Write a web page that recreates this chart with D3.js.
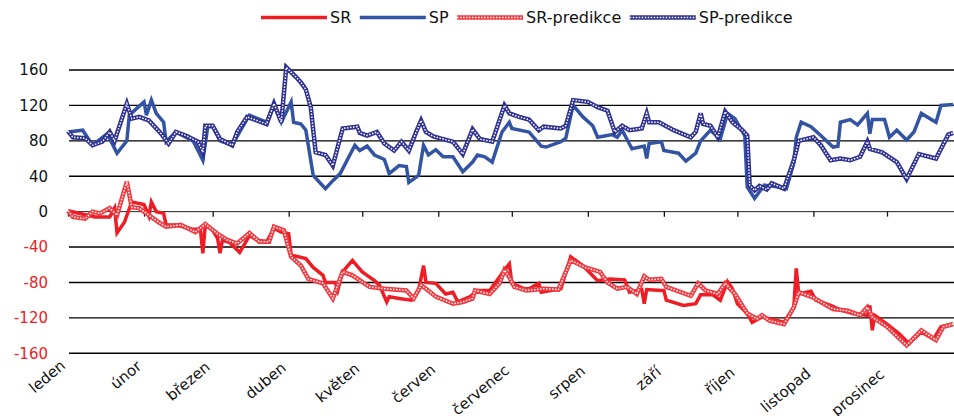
<!DOCTYPE html>
<html>
<head>
<meta charset="utf-8">
<script src="https://cdn.jsdelivr.net/npm/d3@7"></script>
<style>
  body { margin:0; background:#fff; }
  svg text { font-family: "DejaVu Sans", Verdana, sans-serif; }
</style>
</head>
<body>
<div id="canvas"></div>
<script>
// --- data (day of year, value)
var mesice = ['leden','únor','březen','duben','květen','červen','červenec','srpen','září','říjen','listopad','prosinec'];
var yTicks = [-160,-120,-80,-40,0,40,80,120,160];

var srDen = [0,8,11,17,19,20,23,26,31,33,34,36,39,40,44,47,51,54,55,56,59,61,62,63,66,70,73,74,77,81,84,87,90,91,97,100,104,105,109,110,112,116,120,125,127,130,131,135,140,143,145,146,150,154,157,159,164,167,172,178,180,181,186,188,192,193,201,205,210,216,221,227,229,234,235,236,242,243,244,251,256,258,263,266,269,271,273,277,279,283,286,292,296,297,298,303,305,311,315,320,326,327,328,329,334,339,343,348,353,356,361];
var srVal = [1,-4,-6,-6,4,-24,-12,11,8,-5,11,0,-2,-15,-15,-17,-20,-20,-47,-15,-21,-30,-47,-32,-35,-46,-32,-27,-32,-34,-19,-23,-25,-49,-53,-63,-72,-80,-80,-89,-68,-55,-68,-78,-83,-102,-96,-98,-100,-89,-61,-80,-81,-93,-91,-102,-96,-89,-89,-66,-59,-81,-87,-87,-81,-91,-87,-51,-61,-78,-76,-77,-91,-88,-104,-88,-89,-89,-100,-106,-104,-94,-94,-100,-79,-87,-104,-115,-125,-119,-121,-125,-108,-64,-93,-90,-100,-106,-111,-115,-117,-106,-134,-117,-127,-138,-149,-136,-144,-130,-127];

var spDen = [0,6,10,16,20,24,25,31,32,34,36,39,40,44,51,55,57,59,62,67,70,74,81,84,87,91,92,95,97,100,105,108,111,117,119,122,125,129,131,135,138,139,143,145,147,150,153,157,161,165,167,170,173,177,180,181,188,193,195,201,203,206,210,214,216,222,224,226,230,235,236,237,242,243,249,252,256,258,262,266,269,272,276,277,280,284,289,293,296,297,299,303,307,312,314,315,319,322,326,327,328,333,335,338,342,345,348,354,356,361];
var spVal = [90,92,75,88,66,80,109,124,109,126,111,101,79,90,80,58,96,96,80,75,90,109,101,122,101,124,101,99,92,41,26,35,43,75,69,74,64,59,43,52,51,33,41,75,64,70,62,62,45,56,64,62,56,90,101,94,90,74,73,79,83,120,107,97,84,87,84,92,71,74,60,77,79,69,66,57,66,80,92,82,111,105,86,28,15,30,28,26,55,84,101,96,86,73,74,101,104,98,111,88,104,104,84,92,81,90,111,101,120,121];

var srpDen = [0,2,7,10,13,17,20,24,26,29,33,37,40,46,52,56,61,65,69,74,78,82,84,88,91,95,98,104,108,112,116,123,129,138,141,144,146,150,157,161,165,166,172,176,178,180,182,187,191,194,200,205,211,217,220,224,228,232,235,237,242,244,254,257,260,265,268,272,277,281,283,286,292,296,298,304,307,312,318,323,326,328,334,342,348,354,357,361];
var srpVal = [1,-6,-8,0,-2,4,-4,34,5,4,-4,-12,-17,-15,-23,-14,-25,-32,-36,-24,-34,-34,-17,-21,-51,-61,-76,-81,-98,-68,-72,-85,-87,-89,-98,-83,-87,-96,-104,-102,-98,-89,-93,-81,-66,-74,-85,-89,-88,-87,-88,-55,-63,-68,-80,-87,-85,-93,-73,-77,-76,-85,-95,-81,-89,-93,-81,-93,-115,-121,-117,-123,-127,-108,-91,-97,-102,-110,-112,-117,-108,-119,-130,-151,-134,-145,-130,-127];

var sppDen = [0,2,7,10,14,17,19,24,26,29,33,38,41,44,48,53,55,56,59,62,67,69,73,81,84,87,89,93,95,97,99,101,105,108,112,118,119,122,126,129,133,136,139,142,144,146,149,153,157,161,165,168,173,178,180,184,188,192,194,201,203,206,212,216,220,223,226,229,234,236,237,241,247,254,256,258,259,262,265,268,271,275,277,278,280,282,285,287,292,296,298,304,307,311,315,319,323,326,327,332,338,342,347,354,359,361];
var sppVal = [91,84,83,75,79,90,80,122,105,107,103,88,77,90,86,79,67,97,97,82,75,90,107,99,122,101,163,152,146,138,118,67,64,52,94,96,89,86,90,77,69,79,69,90,103,90,85,82,79,65,93,82,79,120,111,107,104,92,96,94,97,126,124,118,114,90,97,92,94,111,101,101,92,84,90,111,99,97,84,113,101,92,86,30,24,29,25,32,26,58,80,84,75,58,60,58,62,79,71,67,56,37,65,60,87,89];

// --- margin / size
var outerWidth = 954, outerHeight = 416;

var svg = d3.select('#canvas')
  .append('svg')
  .attr('width', outerWidth)
  .attr('height', outerHeight);

var start = new Date(2009, 0, 1);
function den(d) { return d3.timeDay.offset(start, d); }

// --- scales
var scaleX = d3.scaleTime()
  .domain([start, new Date(2010, 0, 1)])
  .range([68, 963]);

var scaleY = d3.scaleLinear()
  .domain([-160, 160])
  .range([353.3, 70]);

// --- grid
svg.append('g')
  .selectAll('line')
  .data(yTicks.filter(function(t){ return t !== 0; }))
  .enter().append('line')
  .attr('x1', 69).attr('x2', outerWidth)
  .attr('y1', function(d){ return scaleY(d); })
  .attr('y2', function(d){ return scaleY(d); })
  .attr('stroke', '#000')
  .attr('stroke-width', 1.4);

// y labels
svg.append('g')
  .selectAll('text')
  .data(yTicks)
  .enter().append('text')
  .attr('x', 48)
  .attr('y', function(d){ return scaleY(d); })
  .attr('dy', '0.36em')
  .attr('text-anchor', 'end')
  .attr('font-size', 15)
  .attr('fill', function(d){ return d < 0 ? '#ee2222' : '#111'; })
  .text(function(d){ return d; });

// x axis at zero
var monthStarts = d3.range(12).map(function(i){ return new Date(2009, i, 1); });
var xAxis = svg.append('g')
  .attr('transform', 'translate(0,' + scaleY(0) + ')')
  .call(d3.axisBottom(scaleX).tickValues(monthStarts).tickSize(5).tickFormat(''));
xAxis.select('.domain').attr('stroke', '#222').attr('d', 'M68,0H' + outerWidth);
xAxis.selectAll('.tick line').attr('stroke', '#111').attr('stroke-width', 1.3);

// month labels (rotated)
svg.append('g')
  .selectAll('text')
  .data(monthStarts)
  .enter().append('text')
  .attr('transform', function(d, i){ return 'translate(' + (scaleX(d) - 5) + ',' + (363 + i * 0.8) + ') rotate(-40)'; })
  .attr('text-anchor', 'end')
  .attr('dy', '0.35em')
  .attr('font-size', 15)
  .attr('fill', '#111')
  .text(function(d, i){ return mesice[i]; });

// --- lines
function body(dny, hodnoty) {
  return dny.map(function(d, i){ return [den(d), hodnoty[i]]; });
}
var line = d3.line()
  .x(function(d){ return scaleX(d[0]); })
  .y(function(d){ return scaleY(d[1]); });

function plain(data, color) {
  svg.append('path')
    .attr('d', line(data))
    .attr('fill', 'none')
    .attr('stroke', color)
    .attr('stroke-width', 3.5)
    .attr('stroke-linejoin', 'miter');
}
function pattern(data, color) {
  svg.append('path')
    .attr('d', line(data))
    .attr('fill', 'none')
    .attr('stroke', color)
    .attr('stroke-width', 4.5);
  svg.append('path')
    .attr('d', line(data))
    .attr('fill', 'none')
    .attr('stroke', '#fff')
    .attr('stroke-width', 1.5)
    .attr('stroke-dasharray', '1.5,1.5');
}

var RED = '#ee1c25', BLUE = '#3353a3', RED2 = '#f2383f', NAVY = '#2e3192';

plain(body(srDen, srVal), RED);
plain(body(spDen, spVal), BLUE);
pattern(body(srpDen, srpVal), RED2);
pattern(body(sppDen, sppVal), NAVY);

// --- legend
var legend = [
  {name:'SR', color:RED, typ:'plain'},
  {name:'SP', color:BLUE, typ:'plain'},
  {name:'SR-predikce', color:RED2, typ:'pattern'},
  {name:'SP-predikce', color:NAVY, typ:'pattern'}
];
var lx = 261, ly = 17.5;
legend.forEach(function(l){
  var g = svg.append('g');
  if (l.typ === 'plain') {
    g.append('line').attr('x1', lx).attr('x2', lx + 66).attr('y1', ly).attr('y2', ly)
      .attr('stroke', l.color).attr('stroke-width', 3.5);
  } else {
    g.append('line').attr('x1', lx).attr('x2', lx + 66).attr('y1', ly).attr('y2', ly)
      .attr('stroke', l.color).attr('stroke-width', 4.5);
    g.append('line').attr('x1', lx).attr('x2', lx + 66).attr('y1', ly).attr('y2', ly)
      .attr('stroke', '#fff').attr('stroke-width', 1.5).attr('stroke-dasharray', '1.5,1.5');
  }
  var t = g.append('text').attr('x', lx + 69).attr('y', ly).attr('dy', '0.36em')
    .attr('font-size', 16).attr('fill', '#111').text(l.name);
  lx = lx + 69 + t.node().getComputedTextLength() + 8.5;
});
</script>
</body>
</html>
